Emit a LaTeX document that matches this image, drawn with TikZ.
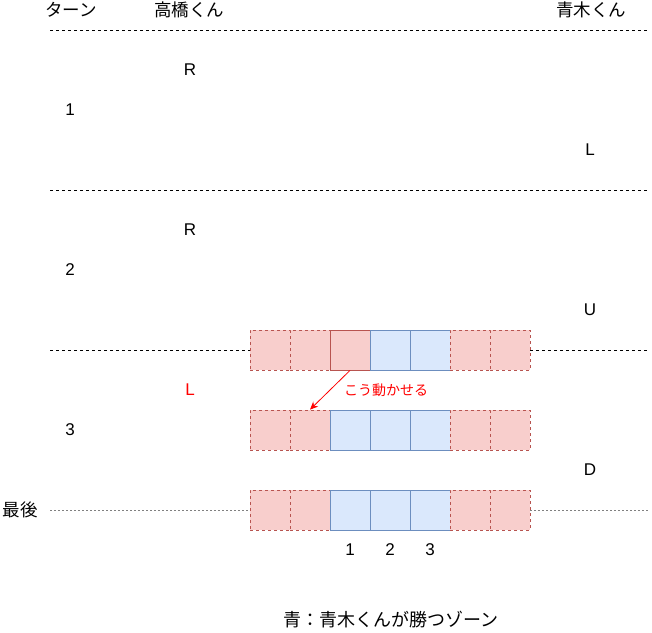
\documentclass[tikz,border=0pt]{standalone}
\usepackage{fontspec}
\setmainfont{Liberation Sans}
\newfontfamily\jp{Noto Sans CJK JP}
\usetikzlibrary{arrows.meta}
\definecolor{redfill}{HTML}{F8CECC}
\definecolor{redline}{HTML}{B85450}
\definecolor{bluefill}{HTML}{DAE8FC}
\definecolor{blueline}{HTML}{6C8EBF}
\definecolor{arrowred}{HTML}{FF0000}
\tikzset{
  lbl/.style={font=\fontsize{17}{20}\selectfont, inner sep=0pt},
  jlbl/.style={font=\jp\fontsize{17.5}{20}\selectfont, inner sep=0pt},
  redcell/.style={draw=redline, fill=redfill, dash pattern=on 3pt off 3pt, minimum width=40pt, minimum height=40pt, inner sep=0pt, line width=0.8pt},
  redsolid/.style={draw=redline, fill=redfill, minimum width=40pt, minimum height=40pt, inner sep=0pt, line width=0.8pt},
  bluecell/.style={draw=blueline, fill=bluefill, minimum width=40pt, minimum height=40pt, inner sep=0pt, line width=0.8pt},
  sepline/.style={draw=black, dash pattern=on 3pt off 3pt, line width=0.6pt},
  lastline/.style={draw=gray, dash pattern=on 2pt off 2pt, line width=1pt},
}
\begin{document}
\begin{tikzpicture}[x=1pt,y=-1pt]
\useasboundingbox (0,0) rectangle (652,632);
% headers
\node[jlbl] (hturn) at (71,10) {ターン};
\node[jlbl] (htaka) at (189,10) {高橋くん};
\node[jlbl] (haoki) at (591,10) {青木くん};
% separator coordinates
\coordinate (s1a) at (50,30); \coordinate (s1b) at (648,30);
\coordinate (s2a) at (50,190); \coordinate (s2b) at (648,190);
\coordinate (s3a) at (50,350); \coordinate (s3b) at (648,350);
\coordinate (s4a) at (50,510); \coordinate (s4b) at (648,510);
\draw[sepline] (s1a) -- (s1b);
\draw[sepline] (s2a) -- (s2b);
% turn 1
\node[lbl] (r1) at (190,70) {R};
\node[lbl] (t1) at (70,110) {1};
\node[lbl] (l1) at (590,150) {L};
% turn 2
\node[lbl] (r2) at (190,230) {R};
\node[lbl] (t2) at (70,270) {2};
\node[lbl] (u2) at (590,310) {U};
% turn 3
\node[lbl, text=arrowred] (l3) at (190,390) {L};
\node[lbl] (t3) at (70,430) {3};
\node[lbl] (d3) at (590,470) {D};
\node[jlbl] (last) at (20,510) {最後};
% row A (y=350)
\node[redcell] (a1) at (270,350) {};
\node[redcell] (a2) at (310,350) {};
\node[redsolid] (a3) at (350,350) {};
\node[bluecell] (a4) at (390,350) {};
\node[bluecell] (a5) at (430,350) {};
\node[redcell] (a6) at (470,350) {};
\node[redcell] (a7) at (510,350) {};
\draw[sepline] (s3a) -- (a1.west);
\draw[sepline] (a7.east) -- (s3b);
% row B (y=430)
\node[redcell] (b1) at (270,430) {};
\node[redcell] (b2) at (310,430) {};
\node[bluecell] (b3) at (350,430) {};
\node[bluecell] (b4) at (390,430) {};
\node[bluecell] (b5) at (430,430) {};
\node[redcell] (b6) at (470,430) {};
\node[redcell] (b7) at (510,430) {};
% row C (y=510)
\node[redcell] (c1) at (270,510) {};
\node[redcell] (c2) at (310,510) {};
\node[bluecell] (c3) at (350,510) {};
\node[bluecell] (c4) at (390,510) {};
\node[bluecell] (c5) at (430,510) {};
\node[redcell] (c6) at (470,510) {};
\node[redcell] (c7) at (510,510) {};
\draw[lastline] (s4a) -- (c1.west);
\draw[lastline] (c7.east) -- (s4b);
% arrow
\draw[draw=arrowred, line width=0.8pt, -{Stealth[length=8pt,width=7pt]}] (a3.south) -- (b2.north);
\node[jlbl, font=\jp\fontsize{14}{16}\selectfont, text=arrowred] (move) at (386,390) {こう動かせる};
% numbers
\node[lbl] (n1) at (350,550) {1};
\node[lbl] (n2) at (390,550) {2};
\node[lbl] (n3) at (430,550) {3};
\node[jlbl, font=\jp\fontsize{18}{20}\selectfont] (legend) at (391,620) {青：青木くんが勝つゾーン};
\end{tikzpicture}
\end{document}
